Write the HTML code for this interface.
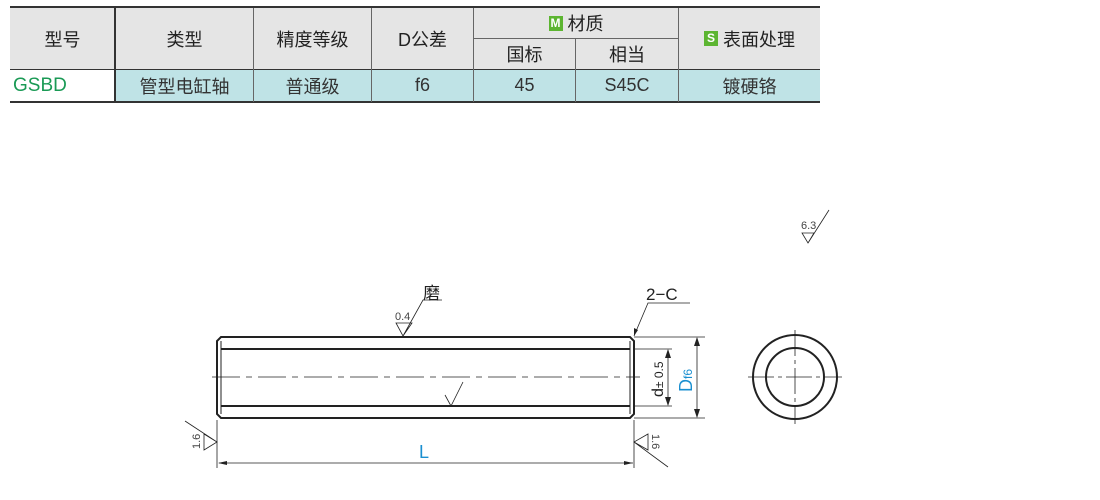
<!DOCTYPE html>
<html><head><meta charset="utf-8"><style>
body{margin:0;width:1100px;height:500px;background:#fff;position:relative;overflow:hidden;font-family:"Liberation Sans","Noto Sans CJK SC",sans-serif}
.c{position:absolute;display:flex;align-items:center;justify-content:center;font-size:18px;color:#222}
.h{background:#e5e5e5}
.d{background:#bfe3e6;color:#333}
.l{position:absolute;background:#333}
.b{display:inline-block;width:14px;height:15px;background:#5cb531;color:#fff;font-size:12px;line-height:15px;text-align:center;margin-right:5px;font-weight:bold}
</style></head><body>
<div class="c h" style="left:10px;top:8px;width:105px;height:61px">型号</div>
<div class="c h" style="left:116px;top:8px;width:137px;height:61px">类型</div>
<div class="c h" style="left:254px;top:8px;width:117px;height:61px">精度等级</div>
<div class="c h" style="left:372px;top:8px;width:101px;height:61px">D公差</div>
<div class="c h" style="left:474px;top:8px;width:204px;height:30px"><span class="b">M</span>材质</div>
<div class="c h" style="left:474px;top:39px;width:101px;height:30px">国标</div>
<div class="c h" style="left:576px;top:39px;width:102px;height:30px">相当</div>
<div class="c h" style="left:679px;top:8px;width:141px;height:61px"><span class="b">S</span>表面处理</div>
<div class="c" style="left:10px;top:70px;width:105px;height:31px;justify-content:flex-start;padding-left:3px;color:#1a9a55;font-size:19px">GSBD</div>
<div class="c d" style="left:116px;top:70px;width:137px;height:31px">管型电缸轴</div>
<div class="c d" style="left:254px;top:70px;width:117px;height:31px">普通级</div>
<div class="c d" style="left:372px;top:70px;width:101px;height:31px">f6</div>
<div class="c d" style="left:474px;top:70px;width:101px;height:31px">45</div>
<div class="c d" style="left:576px;top:70px;width:102px;height:31px">S45C</div>
<div class="c d" style="left:679px;top:70px;width:141px;height:31px">镀硬铬</div>
<div class="l" style="left:10px;top:6px;width:810px;height:2px"></div>
<div class="l" style="left:10px;top:69px;width:810px;height:1px"></div>
<div class="l" style="left:10px;top:101px;width:810px;height:2px"></div>
<div class="l" style="left:114px;top:8px;width:2px;height:94px"></div>
<div class="l" style="left:253px;top:8px;width:1px;height:94px;background:#666"></div>
<div class="l" style="left:371px;top:8px;width:1px;height:94px;background:#666"></div>
<div class="l" style="left:473px;top:8px;width:1px;height:94px;background:#666"></div>
<div class="l" style="left:575px;top:38px;width:1px;height:64px;background:#666"></div>
<div class="l" style="left:678px;top:8px;width:1px;height:94px;background:#666"></div>
<div class="l" style="left:474px;top:38px;width:204px;height:1px;background:#666"></div>
<svg width="1100" height="500" style="position:absolute;left:0;top:0" font-family="Liberation Sans,Noto Sans CJK SC,sans-serif">
<g fill="none" stroke="#222">
<path d="M221 337 H630 L634 341 V414 L630 418 H221 L217 414 V341 Z" stroke-width="2"/>
<path d="M221 349 H630 M221 406 H630" stroke-width="2"/>
<path d="M221 341 V414 M630 341 V414" stroke-width="1"/>
<path d="M212 377 H640" stroke-width="0.8" stroke-dasharray="28,6,6,6"/>
<path d="M634 337 H705 M634 418 H705 M634 349 H672 M634 406 H672" stroke-width="0.7"/>
<path d="M697 338 V417 M668 350 V405 M219 463 H633 M217 420 V468 M634 420 V468" stroke-width="0.8"/>
<path d="M185 421 L217 442 L204 450 V434 L217 442" stroke-width="0.8"/>
<path d="M668 467 L634 442 L648 434 V450 L634 442" stroke-width="0.8"/>
<path d="M396 323 H412 L403 336 Z M403 336 L423 300 H442" stroke-width="0.8"/>
<path d="M445 395 L451 406 L463 382" stroke-width="0.8"/>
<path d="M634 336 L648 303 H690" stroke-width="0.8"/>
<path d="M802 233 H814 L808 243 Z M808 243 L829 210" stroke-width="0.8"/>
<circle cx="795" cy="377" r="42" stroke-width="2"/>
<circle cx="795" cy="377" r="29" stroke-width="2"/>
<path d="M748 377 H842 M795 330 V424" stroke-width="0.8" stroke-dasharray="26,4,4,4"/>
</g>
<g fill="#222">
<path d="M697 337 l-3 9 h6 Z M697 418 l-3 -9 h6 Z M668 349 l-3 9 h6 Z M668 406 l-3 -9 h6 Z M218 463 l9 -2 v4 Z M633 463 l-9 -2 v4 Z M634 336 l0 -8 l4 2 Z"/>
</g>
<g font-size="11" fill="#444">
<text x="395" y="320">0.4</text>
<text x="801" y="229">6.3</text>
<text transform="translate(200,449) rotate(-90)">1.6</text>
<text transform="translate(652,434) rotate(90)">1.6</text>
</g>
<text x="423" y="299" font-size="17" fill="#222">磨</text>
<text x="646" y="300" font-size="17" fill="#222">2−C</text>
<text x="419" y="458" font-size="18" fill="#1a8fd0">L</text>
<text transform="translate(663,397) rotate(-90)" font-size="16" fill="#222">d<tspan font-size="12">± 0.5</tspan></text>
<text transform="translate(692,392) rotate(-90)" font-size="18" fill="#1a8fd0">D<tspan font-size="12">f6</tspan></text>
</svg>
</body></html>
